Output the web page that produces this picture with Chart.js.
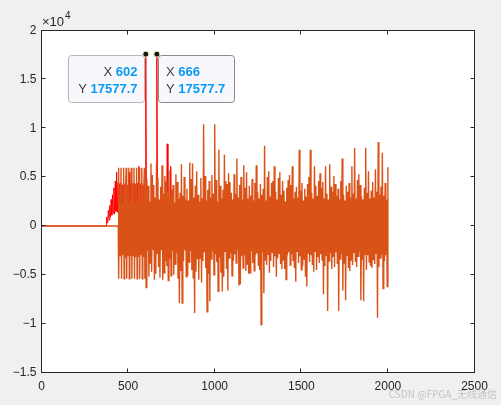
<!DOCTYPE html>
<html>
<head>
<meta charset="utf-8">
<script src="https://cdn.jsdelivr.net/npm/chart.js@4.4.1/dist/chart.umd.min.js"></script>
<style>
  html, body { margin: 0; padding: 0; background: #f0f0f0; }
  canvas { display: block; }
</style>
</head>
<body>
<canvas id="myChart" width="501" height="405"></canvas>
<script>
// Данные (номер отсчёта -> значение)

// красный сигнал: нули до 374, потом отсчёты с шагом 4
const redZeroUntil = 373
const redStart = 374
const redStep = 4
const redValues = [
    0, 900, 300, 1600, 600, 2100, 900, 2700, 1100, 3200, 1300, 3900, 1200, 4600, 1500, 5500, 1400, 4400,
    1800, 4300, 2000, 4400, 1700, 4200, 2100, 4400, 1900, 4300, 1800, 4400, 2000, 4200, 1900,
    5500,
    2000, 4300, 1800, 4400, 2100, 4200, 1900, 4400, 2000, 4300, 1800, 4400, 2100,
    6100,
    1900, 4300, 2000, 4400, 1800, 4200, 2100, 4300, 2400,
    17577.7,
    1500, -1200, 2000, -800, 1700, -1500, 2200, -1000, 1400, -1300, 1900, -900, 2100, -1200, 1600,
    17577.7,
    1500, -1100, 2000, -900, 1800, -1400, 2200, -1000, 1500, -1200, 1900, -800, 2100, 1200,
    8400,
    1400, -900, 2000, -1100,
    6100,
    1200, -800, 1000, 0
]

// оранжевый сигнал: нули до 443, пачка 444..597 (шаг 3), шум 600..2000 (шаг 4)
const orangeZeroUntil = 443
const burstStart = 444
const burstStep = 3
const orangeBurst = [
    5950, -5400, 2400, -3100, 4200,
    5950, -5400, 1900, -3000, 4100,
    5950, -5400, 2600, -3200, 4200,
    5950, -5400, 2100, -3100, 4000,
    5950, -5400, 2500, -3000, 4200,
    5950, -5400, 2000, -3100, 4200,
    5950, -5400, 2300, -3200, 4100,
    5950, -5400, 2700, -3100, 4200,
    5950, -5400, 2200, -3000, 4200,
    5950, -5400, 2400, -3100, 4100,
    5950, -5400
]
const noiseStart = 600
const noiseStep = 4
const orangeNoise = [
    3800, -6300, 4800, -2600, 4100, -5200, 2500, -3800, 6400, -4700,
    5200, -2400, 4200, -5500, 2900, -4900, 6400, -2800, 4900, -4200,
    2700, -5300, 4000, -2500, 6200, -5500, 3300, -4800, 5100, -3600,
    4600, -4100, 3500, -5600, 5700, -3400, 2900, -5100, 3700, -2600,
    4200, -5000, 2400, -3900, 5300, -2800, 4500, -5400, 2800, -7900,
    3400, -4600, 6300, -7900, 3100, -3600, 5000, -2500, 2700, -5200,
    3800, -5100, 2600, -3700, 6500, -2600, 4800, -4500, 6400, -5300,
    2900, -8900, 4100, -4700, 5600, -3400, 3200, -5500, 2500, -3300,
    4900, -5800, 2800, -3600, 10400, -2700, 5100, -4300, 2600, -8800,
    3700, -4900, 4600, -7700, 2900, -3400, 5200, -2600, 3300, -5000,
    10400, -2900, 4700, -3700, 2500, -6700, 7800, -3200, 4100, -4800,
    2800, -6700, 3700, -5200, 7300, -2600, 4600, -4400, 4300, -6600,
    5400, -3300, 4500, -2800, 3400, -5100, 2700, -3600, 5300, -2900,
    3300, -3800, 6900, -2500, 2900, -6100, 4200, -6000, 5000, -3100,
    2700, -4300, 6200, -3000, 3900, -4600, 5500, -3900, 2800, -4900,
    4100, -4800, 3100, -2600, 4800, -3800, 2600, -4600, 4400, -3000,
    6200, -2800, 3500, -4100, 2800, -4500, 4300, -10100, 3200, -2700,
    3800, -6900, 8200, -3500, 2600, -4000, 5000, -2900, 5600, -4800,
    3000, -3600, 4400, -2700, 4600, -4200, 6100, -3100, 3500, -5200,
    2700, -3300, 4900, -2800, 5500, -3900, 3200, -4400, 4600, -3500,
    3600, -4400, 2500, -5500, 3900, -3000, 4700, -2700, 5200, -4000,
    4200, -2900, 6100, -3600, 2800, -4300, 3500, -5700, 4000, -2600,
    2900, -3800, 7800, -3100, 3600, -4500, 4400, -4100, 2600, -3400,
    3800, -5200, 3000, -6200, 4300, -2800, 5000, -3700, 7800, -3000,
    3400, -4000, 2800, -4700, 6100, -2600, 4100, -4500, 3100, -3200,
    4600, -3800, 5400, -2900, 3900, -3500, 4500, -7000, 2800, -4100,
    6100, -3000, 3300, -8700, 2700, -3600, 6300, -2800, 4000, -4400,
    3500, -3100, 5100, -4200, 4300, -2700, 3100, -3900, 3800, -8700,
    2700, -3400, 4600, -2900, 6900, -6600, 3200, -3800, 2600, -7600,
    4100, -3000, 3500, -4300, 4400, -4600, 2900, -3500, 6100, -4000,
    3300, -2800, 8000, -3700, 2800, -4200, 4700, -3100, 5300, -2700,
    4200, -7600, 3000, -3400, 2700, -7700, 3900, -2900, 8000, -4500,
    3400, -3000, 5600, -3700, 2800, -4100, 3600, -4300, 4500, -3500,
    2900, -3900, 5800, -2800, 3500, -9400, 8600, -4200, 3200, -3300,
    4000, -2900, 7500, -6400, 3100, -3600, 4400, -3000, 2700, -6200,
    6000
]

// подсказки (datatips)
const tipX = [602, 666]
const tipY = [17577.7, 17577.7]

// оси
const xMin = 0, xMax = 2500, xStep = 500
const yMin = -15000, yMax = 20000, yStep = 5000
const yExponent = 4


const toPoints = (start, step, values) => values.map((v, i) => ({ x: start + i * step, y: v }))

const redData = [{ x: 1, y: 0 }, { x: redZeroUntil, y: 0 }, ...toPoints(redStart, redStep, redValues)]
const orangeData = [
    { x: 1, y: 0 }, { x: orangeZeroUntil, y: 0 },
    ...toPoints(burstStart, burstStep, orangeBurst),
    ...toPoints(noiseStart, noiseStep, orangeNoise)
]
const tipData = tipX.map((x, i) => ({ x: x, y: tipY[i] }))

const textColor = '#262626'
const tickFont = { family: 'Liberation Sans', size: 12 }

function roundRect(ctx, x, y, w, h, r) {
    ctx.beginPath()
    ctx.moveTo(x + r, y)
    ctx.lineTo(x + w - r, y)
    ctx.arcTo(x + w, y, x + w, y + r, r)
    ctx.lineTo(x + w, y + h - r)
    ctx.arcTo(x + w, y + h, x + w - r, y + h, r)
    ctx.lineTo(x + r, y + h)
    ctx.arcTo(x, y + h, x, y + h - r, r)
    ctx.lineTo(x, y + r)
    ctx.arcTo(x, y, x + r, y, r)
    ctx.closePath()
}

// рамка в стиле MATLAB, засечки внутрь, подсказки
const matlabFrame = {
    id: 'matlabFrame',
    beforeDraw(chart) {
        const { ctx, chartArea: a } = chart
        ctx.save()
        ctx.fillStyle = '#ffffff'
        ctx.fillRect(a.left, a.top, a.right - a.left, a.bottom - a.top)
        ctx.restore()
    },
    afterDatasetsDraw(chart) {
        const { ctx, chartArea: a, scales } = chart
        ctx.save()
        ctx.strokeStyle = textColor
        ctx.lineWidth = 1
        ctx.strokeRect(a.left, a.top, a.right - a.left, a.bottom - a.top)

        const len = 4
        ctx.beginPath()
        scales.x.ticks.forEach(t => {
            const px = Math.floor(scales.x.getPixelForValue(t.value) - 0.5) + 0.5
            ctx.moveTo(px, a.bottom); ctx.lineTo(px, a.bottom - len)
            ctx.moveTo(px, a.top); ctx.lineTo(px, a.top + len)
        })
        scales.y.ticks.forEach(t => {
            const py = Math.floor(scales.y.getPixelForValue(t.value) - 0.5) + 0.5
            ctx.moveTo(a.left, py); ctx.lineTo(a.left + len, py)
            ctx.moveTo(a.right, py); ctx.lineTo(a.right - len, py)
        })
        ctx.stroke()

        // множитель x10^4
        ctx.fillStyle = textColor
        ctx.textBaseline = 'middle'
        ctx.textAlign = 'left'
        ctx.font = '13px "Liberation Sans"'
        ctx.fillText('×10', 42, 22.5)
        const w10 = ctx.measureText('×10').width
        ctx.font = '10px "Liberation Sans"'
        ctx.fillText(String(yExponent), 42 + w10 + 1, 16.5)

        // подсказки
        const boxW = 76, boxH = 47
        tipX.forEach((xv, i) => {
            const mx = scales.x.getPixelForValue(xv)
            const my = scales.y.getPixelForValue(tipY[i])
            const left = i === 0 ? Math.round(mx - 2 - boxW) + 0.5 : Math.round(mx + 1) + 0.5
            const top = Math.round(my + 1) + 0.5
            roundRect(ctx, left, top, boxW, boxH, 3)
            ctx.fillStyle = '#f8f8fc'
            ctx.fill()
            ctx.strokeStyle = i === 0 ? '#b8b8b8' : '#8a8a8a'
            ctx.stroke()

            const lines = [['X ', String(xv)], ['Y ', String(tipY[i])]]
            lines.forEach((ln, j) => {
                const cy = top + 17 + j * 16.5
                ctx.font = 'bold 13px "Liberation Sans"'
                const vw = ctx.measureText(ln[1]).width
                ctx.font = '13px "Liberation Sans"'
                const lw = ctx.measureText(ln[0]).width
                const startX = i === 0 ? left + boxW - 7 - vw - lw : left + 7.5
                ctx.textAlign = 'left'
                ctx.fillStyle = '#404040'
                ctx.fillText(ln[0], startX, cy)
                ctx.font = 'bold 13px "Liberation Sans"'
                ctx.fillStyle = '#0a99f5'
                ctx.fillText(ln[1], startX + lw, cy)
            })
        })
        ctx.restore()
    },
    afterDraw(chart) {
        const { ctx } = chart
        ctx.save()
        ctx.font = '10px "Noto Sans CJK SC"'
        ctx.fillStyle = 'rgba(140, 140, 140, 0.45)'
        ctx.textAlign = 'right'
        ctx.textBaseline = 'middle'
        ctx.fillText('CSDN @FPGA_无线通信', 497, 394)
        ctx.restore()
    }
}

const ctx = document.getElementById('myChart').getContext('2d')

const myChart = new Chart(ctx, {
    type: 'line',
    data: {
        datasets: [
            {
                label: 'tips',
                data: tipData,
                showLine: false,
                pointRadius: 3,
                pointBorderWidth: 1,
                pointBackgroundColor: '#151515',
                pointBorderColor: '#f3efc0',
                order: 0
            },
            {
                label: 'orange',
                data: orangeData,
                borderColor: '#d95319',
                borderWidth: 1.4,
                pointRadius: 0,
                order: 1
            },
            {
                label: 'red',
                data: redData,
                borderColor: '#ff0000',
                borderWidth: 1,
                pointRadius: 0,
                order: 2
            }
        ]
    },
    options: {
        responsive: false,
        animation: false,
        layout: { padding: { left: 0, top: 30.5, right: 26.5, bottom: 0 } },
        elements: { line: { tension: 0 } },
        plugins: {
            legend: { display: false },
            tooltip: { enabled: false }
        },
        scales: {
            x: {
                type: 'linear',
                min: xMin,
                max: xMax,
                grid: { display: false, drawTicks: false },
                border: { display: false },
                ticks: {
                    stepSize: xStep,
                    padding: 7,
                    color: textColor,
                    font: tickFont,
                    maxRotation: 0,
                    callback: function(value) {
                        return String(value)
                    }
                },
                afterFit(scale) { scale.height = 32.5 }
            },
            y: {
                type: 'linear',
                min: yMin,
                max: yMax,
                grid: { display: false, drawTicks: false },
                border: { display: false },
                ticks: {
                    stepSize: yStep,
                    padding: 5,
                    color: textColor,
                    font: tickFont,
                    callback: function(value) {
                        // MATLAB пишет длинный минус
                        return String(value / Math.pow(10, yExponent)).replace('-', '\u2212')
                    }
                },
                afterFit(scale) { scale.width = 41.5 }
            }
        }
    },
    plugins: [matlabFrame]
})
</script>
</body>
</html>
